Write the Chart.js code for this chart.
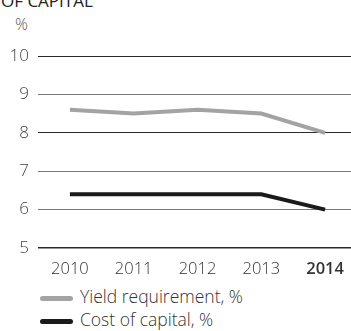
<!DOCTYPE html>
<html>
<head>
<meta charset="utf-8">
<script src="https://cdn.jsdelivr.net/npm/chart.js@4"></script>
<style>
  body { margin: 0; width: 351px; height: 331px; overflow: hidden; background: #fff; font-family: 'Open Sans', sans-serif; font-weight: 300; color: #333; }
  #title { position: absolute; left: 1px; top: -11px; font-size: 17px; font-weight: 500; color: #222; }
  #unit { position: absolute; left: 15px; top: 13px; font-size: 16px; color: #555; }
  #wrap { position: absolute; left: 0; top: 0; width: 357px; height: 280px; }
  .legend { position: absolute; left: 40px; font-size: 17.5px; color: #333; white-space: nowrap; }
  .legend span { display: inline-block; width: 33px; height: 5px; border-radius: 3px; vertical-align: middle; margin-right: 7px; }
</style>
</head>
<body>
<div id="title">OF CAPITAL</div>
<div id="unit">%</div>
<div id="wrap"><canvas id="lineChart"></canvas></div>
<div class="legend" style="top:284px"><span style="background:#a3a3a3"></span>Yield requirement, %</div>
<div class="legend" style="top:307px"><span style="background:#1a1a1a"></span>Cost of capital, %</div>
<script>
var years = ['2010', '2011', '2012', '2013', '2014'];
var yieldRequirement = [8.6, 8.5, 8.6, 8.5, 8.0];
var costOfCapital = [6.4, 6.4, 6.4, 6.4, 6.0];
var yTicks = [5, 6, 7, 8, 9, 10];

var ctx = document.getElementById('lineChart');

var chart = new Chart(ctx, {
    type: 'line',
    data: {
        labels: years,
        datasets: [{
            label: 'Yield requirement, %',
            data: yieldRequirement,
            borderColor: '#a3a3a3',
            borderWidth: 4,
            pointRadius: 0,
            tension: 0
        }, {
            label: 'Cost of capital, %',
            data: costOfCapital,
            borderColor: '#1a1a1a',
            borderWidth: 4,
            pointRadius: 0,
            tension: 0
        }]
    },
    options: {
        responsive: true,
        maintainAspectRatio: false,
        animation: false,
        layout: { padding: { top: 56, right: 0, left: 0, bottom: 0 } },
        plugins: { legend: { display: false }, tooltip: { enabled: false } },
        scales: {
            x: {
                offset: true,
                grid: { display: false },
                border: { display: false },
                afterFit: function (scale) { scale.height = 32; },
                ticks: {
                    padding: 3,
                    color: '#333',
                    font: function (c) {
                        var last = c.index === years.length - 1;
                        return { family: 'Open Sans', size: 16.5, weight: last ? '600' : '300' };
                    }
                }
            },
            y: {
                min: yTicks[0],
                max: yTicks[yTicks.length - 1],
                afterFit: function (scale) { scale.width = 38; },
                afterBuildTicks: function (scale) {
                    scale.ticks = yTicks.map(function (v) { return { value: v }; });
                },
                border: { display: false },
                grid: {
                    drawTicks: false,
                    color: function (c) {
                        var v = c.tick ? c.tick.value : 0;
                        return (v === 10 || v === 8 || v === 5) ? '#2a2a2a' : '#7a7a7a';
                    },
                    lineWidth: function (c) {
                        return c.tick && c.tick.value === 5 ? 1.6 : 1;
                    }
                },
                ticks: {
                    padding: 9,
                    color: '#444',
                    font: { family: 'Open Sans', size: 17, weight: '300' }
                }
            }
        }
    }
});
</script>
</body>
</html>
